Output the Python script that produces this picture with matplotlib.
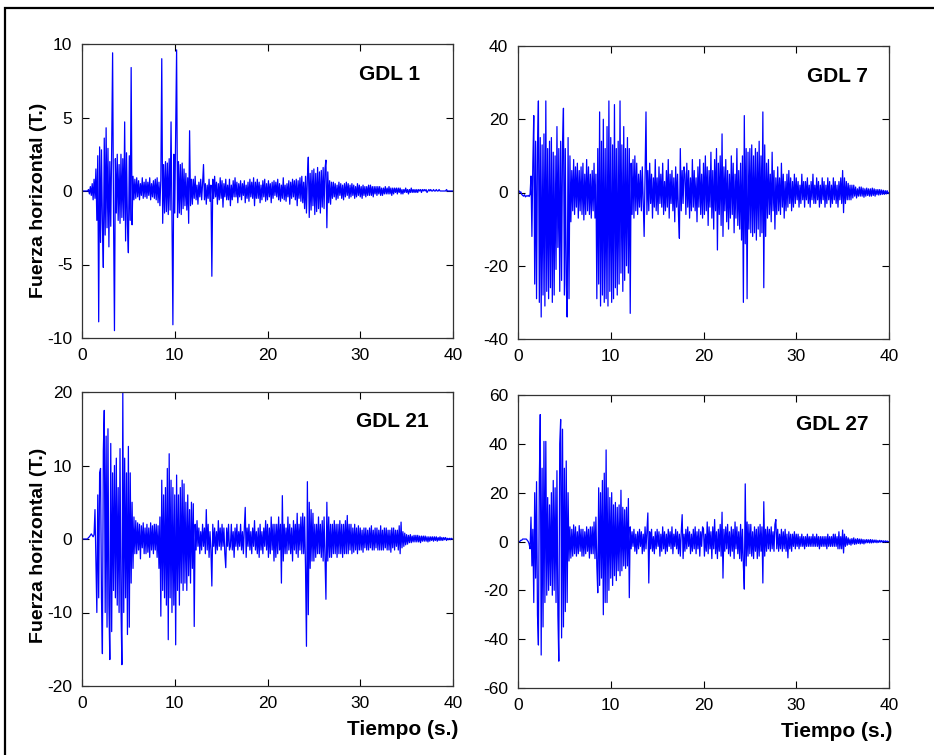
import numpy as np
import matplotlib
matplotlib.use("Agg")
import matplotlib.pyplot as plt
from matplotlib.patches import Rectangle

plt.rcParams["axes.unicode_minus"] = False

# Values, one sample every 0.1 s (rows = 1 s)
gdl1 = [
    0, 0, 0, 0, 0, 0, 0, 0.1, -0.2, 0.3,
    -0.3, 0.5, -0.6, 0.8, -0.5, 1.5, -2.0, 2.4, -8.9, 3.0,
    -3.5, 2.8, -2.2, -5.2, 3.6, -3.0, 4.3, -2.5, 2.9, -3.8,
    2.0, -2.4, 3.0, 9.4, -1.8, -9.5, 2.2, -1.5, 2.5, -2.0,
    1.8, -2.2, 2.5, -1.8, 2.2, -2.0, 4.7, -3.4, 2.6, -2.3,
    -4.2, 2.4, -2.0, 8.4, -2.3, 1.0, -0.6, 0.8, -0.5, 0.9,
    -0.4, 0.7, -0.6, 0.5, -0.3, 0.9, -0.5, 0.6, -0.4, 0.8,
    -0.5, 0.6, -0.3, 0.9, -0.6, 0.5, -0.4, 0.7, -0.5, 0.8,
    -0.6, 0.9, -0.8, 0.6, -1.0, 0.8, 9.0, -2.2, 1.8, -1.5,
    2.0, -1.4, 1.9, -1.6, 2.2, -1.3, 4.7, -1.8, -9.1, 2.5,
    -1.5, 3.8, 9.6, -1.8, 2.0, -1.5, 1.8, -1.6, 1.9, -1.2,
    1.5, -1.0, 1.2, -1.3, 0.9, -2.2, 4.1, -1.0, 0.8, -0.9,
    0.8, -0.5, 1.0, -0.6, 0.4, -0.9, 0.6, -0.4, 0.8, -0.6,
    0.5, 1.8, -0.6, 0.5, -0.9, 0.4, -0.5, 0.8, -0.7, 0.4,
    -5.8, 0.8, -0.5, 1.0, -0.4, 0.6, -0.9, 0.5, -0.6, 0.9,
    -0.5, 0.7, -1.1, 0.5, -0.4, 0.8, -0.6, 0.4, -0.6, 0.8,
    -1.0, 0.4, -0.6, 0.7, -0.4, 0.9, -0.4, 0.6, -0.8, 0.5,
    -0.4, 0.7, -0.6, 0.5, -0.3, 0.7, -0.8, 0.4, -0.5, 0.6,
    -0.7, 0.8, -0.4, 0.6, -0.5, 0.9, -1.0, 0.6, -0.5, 0.8,
    -0.5, 0.6, -0.8, 0.4, -0.6, 0.7, -0.4, 0.8, -0.7, 0.5,
    -0.6, 0.7, -0.4, 0.5, -0.8, 0.6, -0.5, 0.7, -0.3, 0.6,
    -0.4, 0.8, -0.6, 0.5, -0.7, 0.4, -0.5, 0.9, -0.6, 0.4,
    -0.7, 0.5, -0.4, 0.7, -0.9, 0.6, -0.5, 0.8, -0.4, 0.7,
    -0.6, 0.8, -1.0, 0.7, -0.5, 0.9, -0.7, 1.0, -0.8, 0.6,
    -1.2, 1.0, -1.5, 0.9, 2.3, -1.8, 1.2, -1.3, 1.4, -1.0,
    1.5, -1.6, 1.2, -1.4, 1.6, -1.2, 1.3, -1.5, 1.4, -1.1,
    1.6, -1.2, 1.5, 2.1, -2.5, 1.3, -0.8, 0.7, -0.9, 0.6,
    -0.5, 0.6, -0.4, 0.5, -0.6, 0.4, -0.5, 0.6, -0.3, 0.5,
    -0.5, 0.4, -0.6, 0.5, -0.4, 0.6, -0.3, 0.5, -0.5, 0.4,
    -0.4, 0.5, -0.3, 0.4, -0.5, 0.3, -0.4, 0.5, -0.3, 0.4,
    -0.4, 0.3, -0.5, 0.4, -0.3, 0.3, -0.4, 0.3, -0.3, 0.4,
    -0.3, 0.4, -0.3, 0.3, -0.4, 0.3, -0.2, 0.3, -0.3, 0.3,
    -0.2, 0.3, -0.3, 0.2, -0.3, 0.2, -0.2, 0.3, -0.2, 0.2,
    -0.2, 0.3, -0.2, 0.2, -0.3, 0.2, -0.2, 0.2, -0.1, 0.2,
    -0.2, 0.2, -0.1, 0.2, -0.2, 0.1, -0.2, 0.1, -0.1, 0.2,
    -0.1, 0.1, -0.2, 0.1, -0.1, 0.2, -0.1, 0.1, -0.1, 0.1,
    -0.1, 0.1, -0.1, 0.1, 0.0, 0.1, -0.1, 0.1, 0.0, 0.1,
    0.0, 0.1, -0.1, 0.0, 0.1, 0.0, 0.1, 0.0, 0.0, 0.1,
    0.0, 0.0, 0.1, 0.0, 0.0, 0.1, 0.0, 0.0, 0.0, 0.0,
    0.0, 0.0, 0.0, 0.1, 0.0, 0.0, 0.0, 0.0, 0.0, 0.0,
    0.0,
]

gdl7 = [
    0.3, 0.5, 0, 0.2, -0.5, -0.8, -1.0, -0.6, -1.2, -0.9,
    -1.0, -0.8, -1.1, -0.5, 4.5, -12.0, 8, 21.0, -25, 14,
    -29, 12, 25, -30, 15, -34, 13, -28, 16, -31,
    25, -27, 12, -29, 14, -26, 15, -30, 11, -28,
    10, -21, 18, -15, 12, -27, 14, -24, 13, 23,
    -28, 12, -25, -34, 15, -29, 10, -8, 6, -5,
    9, -6, 7, -4, 8, -7, 6, -5, 7, -6,
    8, -7.5, 5, -6, 9, -5, 7, -6, 5, -7,
    6, -5, 8, -7, 5, -29, 12, -25, 22, -31,
    14, -28, 20, -30, 12, -29, 18, -31, 25, -27,
    15, -30, 13, -29, 24, -26, 12, -28, 14, -25,
    25, -22, 13, -27, 18, -24, 12, -20, 15, -22,
    12, -33, 8, -6, 9, -7, 10, -5, 8, -6,
    5, -4, 6, -5, 7, -3, -12, 5, 22, -6,
    6, -5, 8, -3, 5, -7, 4, -4, 9, -5,
    4, -6, 7, -3, 5, -4, 8, -6, 3, -5,
    6, -4, 9, -7, 5, -3, 6, -5, 4, -8,
    7, -4, 5, -6, -12.5, 12, -5, 6, -3, 7,
    5, -6, 8, -4, 6, -7, 4, -5, 9, -4,
    6, -5, 4, -8, 7, -4, 9, -6, 5, -7,
    8, -6, 10, -5, 7, -9, 6, -4, 11, -7,
    6, -10, 9, -5, 12, -15.7, 8, -6, 10, -9,
    16, -12, 7, -5, 9, -8, 6, -10, 5, -7,
    10, -6, 8, -11, 5, -7, 12, -9, 6, -10,
    8, -13, 10, -30, 21, -14, 12, -29, 11, -10,
    12, -11, 13, -12, 10, -11, 12, -13, 11, -10,
    14, -12, 10, -11, 22, -26, 13, -12, 8, -7,
    9, -6, 5, -8, 11, -5, 6, -10, 4, -6,
    7, -5, 4, -6, 8, -4, 5, -7, 3, -5,
    5, -4, 6, -3, 4, -5, 3, -4, 5, -3,
    4, -2, 3, -4, 2, -3, 5, -2, 3, -4,
    3, -2, 4, -3, 2, -4, 3, -2, 5, -3,
    2, -3, 4, -2, 3, -4, 2, -3, 4, -2,
    3, -4, 2, -3, 4, -2, 3, -4, 2, -3,
    4, -2, 3, -3, 2, -4, 3, -2, 4, -3,
    6, -5.5, 4, -3, 3, -2, 2.5, -2, 2, -2,
    2, -1.5, 2, -1, 1.5, -1.5, 1, -1, 1.5, -1,
    1.5, -1, 1.2, -1.3, 1, -1, 1.2, -0.8, 1, -1,
    1, -1, 1.2, -0.8, 1, -1, 0.8, -0.6, 0.8, -0.7,
    0.8, -0.6, 0.7, -0.5, 0.6, -0.5, 0.5, -0.4, 0.5, -0.3,
    0,
]

gdl21 = [
    0, 0, 0, 0, 0, 0, 0, 0.2, 0.3, 0.5,
    0.7, 0.5, 0.3, 0.6, 4.0, -3, -10, 6, -8, 9,
    9.6, -8, -15.6, 12, 17.5, -10, 14, -12, 15, -9,
    -16.4, 13, -12.6, 9, -7, 10, -8, 11, -9, 7,
    -10, 12.3, -9, -17.1, 20, -10, 11, -8, 9, -13,
    12.6, -12, 9, -6, 5, -4, 3, -2, 2.5, -2,
    2.2, -1.5, 2.0, -2.7, 1.8, -1.2, 2.2, -2.0, 1.5, -2,
    2, -1.8, 1.5, -2.5, 2.2, -1.5, 1.8, -2.0, 2.0, -1.5,
    2.0, -2.5, 1.8, -4, 3, -10.5, 8, -7, 6, -8,
    7, -9, 9.6, -13.7, 11.6, -8, 8, -10, 7, -9,
    6, -14.4, 8.7, -7, 6, -9, 7, -6, 8, -7,
    7.5, -6, 5, -7, 6, -5, 4, -6, 5, -4,
    4.8, -11.9, 2, -1.5, 2.5, -1, 1.5, -2, 1, -1.5,
    2, -1, 1.5, -2, 4, -1.5, 2, -2.5, 1, -1.5,
    -6.4, 2, -1, 1.5, -2, 1, -1.5, 2.5, -1, 1.5,
    -1.5, 2, -1, 1.5, -2, -3.9, 1.5, -1, 2, -1.5,
    -1, 2, -1.5, 1, -2.5, 1.5, -1, 2, -1.5, 1,
    -1, 2, -1.5, 1, -2, 1.5, 4.3, -2.5, 1.5, -1,
    2, -1.5, 1, -2, 1.5, -1, 2.5, -1.5, 1, -2,
    1.5, -2.5, 2, -1.5, 1, -2, 1.5, -1, 2.5, -1.5,
    2, -2.5, 1.5, -2, 3, -1.5, 2, -3, 2, -2.5,
    2, -2, 3, -1.5, 2, -6, 5.9, -3, 2, -2,
    1.5, -2, 3, -1.5, 2, -2, 1.5, -3, 2.5, -1.5,
    2, -2, 3.5, -2.5, 2, -1.5, 3, -2, 3.5, -2,
    3, -4, -14.6, 7.8, -10.3, 5, -4, 4, -3, 3.5,
    -3, 2, -2.5, 2, -2, 3, -2, 2, -2.5, 2.5,
    -3, 3, -2.5, -8.2, 5, -3, 3, -2.5, 2, -2.5,
    2, -2, 2.5, -2, 2, -2.5, 2, -2, 2.5, -2,
    2, -2.5, 2, -2, 2.5, -2, 3.2, -2, 2, -1.5,
    2, -2, 1.5, -1.8, 2, -1.5, 1.5, -2, 1.8, -1.5,
    1.5, -1.5, 1.2, -1.8, 1.5, -1.2, 1.5, -1.5, 1.2, -1.5,
    1.5, -1.2, 1.8, -1.5, 1.2, -1.5, 1.5, -1.2, 1.5, -1.5,
    1.2, -1.5, 1.8, -1.5, 1.2, -1.5, 1.5, -1.2, 1.5, -1.5,
    1.2, -1.5, 1.2, -1.8, 1.5, -1.2, 1.5, -1.5, 1.2, -1,
    1.2, -1.5, 1.8, -2, 2.3, -1.2, 1, -1, 0.8, -0.8,
    0.6, -0.7, 0.5, -0.5, 0.6, -0.5, 0.4, -0.4, 0.5, -0.4,
    0.5, -0.4, 0.5, -0.4, 0.4, -0.5, 0.4, -0.3, 0.4, -0.3,
    0.4, -0.3, 0.3, -0.4, 0.3, -0.3, 0.3, -0.2, 0.3, -0.3,
    0.3, -0.2, 0.3, -0.3, 0.2, -0.2, 0.3, -0.2, 0.2, -0.2,
    0.2, -0.1, 0.2, -0.2, 0.1, -0.1, 0.1, -0.1, 0.1, 0,
    0,
]

gdl27 = [
    0, 0, 0, 0.5, 0.5, 1, 1, 1, 1, 1,
    0.5, 0, -1, -3, 10, -10, 5, -25, 20, -15,
    24.5, -30, -42.4, 25, 52, -46.5, 30, -35, 41, -25,
    41, -22, 18, -20, 15, -18, 20, -22, 25, -20,
    22, -25, 29, -30, -49, 40, 50, -39.5, 46, -35,
    30, -28.7, 33, -25, 20, -8, 6, -6.8, 5, -6,
    6.8, -5, 6, -6, 4, -5, 6.5, -4, 5, -6,
    5, -6, 4, -5, 6, -4, 5, -6.8, 6, -5,
    6, -5, 8, -7, 10, -10, -21, 22, -18, 20,
    -15, 25, -30, 28, -25, 37.5, -25, 22, -20, 18,
    -15, 20, -18, 15, -14, 16, -16, 14, -12, 15,
    -14, 21, -12, 14, -10, 13, -11, 14, -10, 17.6,
    -23, 6, -3, 4, -2, 5, -4, 3, -5, 4,
    -3, 5, -2, 4, -5, 3, -4, 6, -3, 4,
    11.7, -17, 4, -3, 5, -4, 2, -5, 4, -3,
    5, -2, 4, -6, 3, -4, 6, -3, 4, -5,
    3, -4, 5, -2, 4, -3, 6, -5, 3, -2,
    5, -3, 4, -5, 3, -6, 4, 11, -7, 3,
    -4, 5, -3, 6, -2, 4, -5, 3, -4, 5,
    -3, 6, -5, 4, -3, 5, -6, 4, -2, 6,
    5, -6, 3, -4, 8, -5, 6, -3, 4, -7,
    6, -3, 9, -5, 4, -7, 5, -4, 7, -6,
    12, -15, 5, -4, 6, -3, 7, -5, 4, -6,
    6, -4, 5, -7, 8, -3, 6, -5, 4, -7,
    7, -8, 5, -10, -19.5, 23.6, -10, 8, -6, 7,
    -5, 7, -6, 4, -7, 6, -4, 5, -7, 6,
    -6, 7, -4, 6, -17, 16.3, -6, 5, -4, 6,
    -3, 5, -4, 6, -3, 4, -4, 7, 9, -3,
    5, -4, 3, -3, 5, -4, 4, -3, 5, -4,
    3, -6.7, 4, -3, 3, -4, 3, -2, 4, -3,
    3, -2, 3, -3, 2, -2, 3, -2, 2, -3,
    2, -2, 3, -2, 2, -2, 2, -2, 3, -2,
    2, -2, 3, -2, 2, -3, 2, -2, 2, -2,
    2, -2, 2, -3, 3, -2, 2, -2, 2, -2,
    3, -2, 3, -2, 2, -3, 4, -3, 2, -3,
    4.7, -4.7, 3, -2, 2, -1.5, 1.5, -1.2, 1, -1.5,
    1.2, -1, 1.5, -1.2, 1, -1, 1.2, -0.8, 1, -1,
    1, -0.8, 0.8, -1, 0.7, -0.6, 0.8, -0.5, 0.7, -0.6,
    0.8, -0.6, 0.7, -0.5, 0.6, -0.4, 0.6, -0.5, 0.4, -0.4,
    0.5, -0.3, 0.4, -0.3, 0.3, -0.3, 0.3, -0.2, 0.2, -0.1,
    0,
]

dt_s = 0.1
titles = ["GDL 1", "GDL 7", "GDL 21", "GDL 27"]
series = [gdl1, gdl7, gdl21, gdl27]
ylims = [(-10, 10), (-40, 40), (-20, 20), (-60, 60)]
yticks = [[-10, -5, 0, 5, 10], [-40, -20, 0, 20, 40],
          [-20, -10, 0, 10, 20], [-60, -40, -20, 0, 20, 40, 60]]
xticks = [0, 10, 20, 30, 40]
ylabel = "Fuerza horizontal (T.)"
xlabel = "Tiempo (s.)"

W, H = 934, 755
fig = plt.figure(figsize=(W / 100, H / 100), dpi=100)
fig.patch.set_facecolor("white")


def frac(x0, y0, x1, y1):
    return [x0 / W, 1 - y1 / H, (x1 - x0) / W, (y1 - y0) / H]


boxes = [frac(82, 44, 453, 338), frac(518, 46, 889, 339),
         frac(82, 392, 453, 686), frac(518, 395, 889, 688)]
title_pos = [(0.83, 0.895), (0.862, 0.895), (0.836, 0.90), (0.848, 0.90)]

tick_family = ["Liberation Sans Narrow", "Liberation Sans"]

for i in range(4):
    ax = fig.add_axes(boxes[i])
    vals = np.asarray(series[i], dtype=float)
    t = np.arange(len(vals)) * dt_s
    ax.plot(t, vals, color="#0000FF", lw=0.9)
    ax.set_xlim(0, 40)
    ax.set_ylim(*ylims[i])
    ax.set_xticks(xticks)
    ax.set_yticks(yticks[i])
    ax.tick_params(direction="in", top=True, right=True, length=5,
                   width=0.8, pad=7, colors="black")
    for lab in ax.get_xticklabels() + ax.get_yticklabels():
        lab.set_fontfamily(tick_family)
        lab.set_fontsize(12.5)
    for sp in ax.spines.values():
        sp.set_linewidth(0.9)
        sp.set_color("#333333")
    ax.text(title_pos[i][0], title_pos[i][1], titles[i], transform=ax.transAxes,
            ha="center", va="center", fontsize=15, fontweight="bold",
            family="Liberation Sans")
    if i >= 2:
        ax.text(0.865 if i == 2 else 0.86, -0.148, xlabel, transform=ax.transAxes,
                ha="center", va="center", fontsize=15, fontweight="bold",
                family="Liberation Sans")

fig.text(39 / W, 1 - 200 / H, ylabel, rotation=90, ha="center", va="center",
         fontsize=14, fontweight="bold", family="Liberation Sans")
fig.text(39 / W, 1 - 545 / H, ylabel, rotation=90, ha="center", va="center",
         fontsize=14, fontweight="bold", family="Liberation Sans")

fig.patches.append(Rectangle((5 / W, -0.1), 1.2, 1 - 8 / H + 0.1,
                             transform=fig.transFigure, fill=False,
                             edgecolor="black", lw=1.6))

fig.savefig("out.png", dpi=100)
